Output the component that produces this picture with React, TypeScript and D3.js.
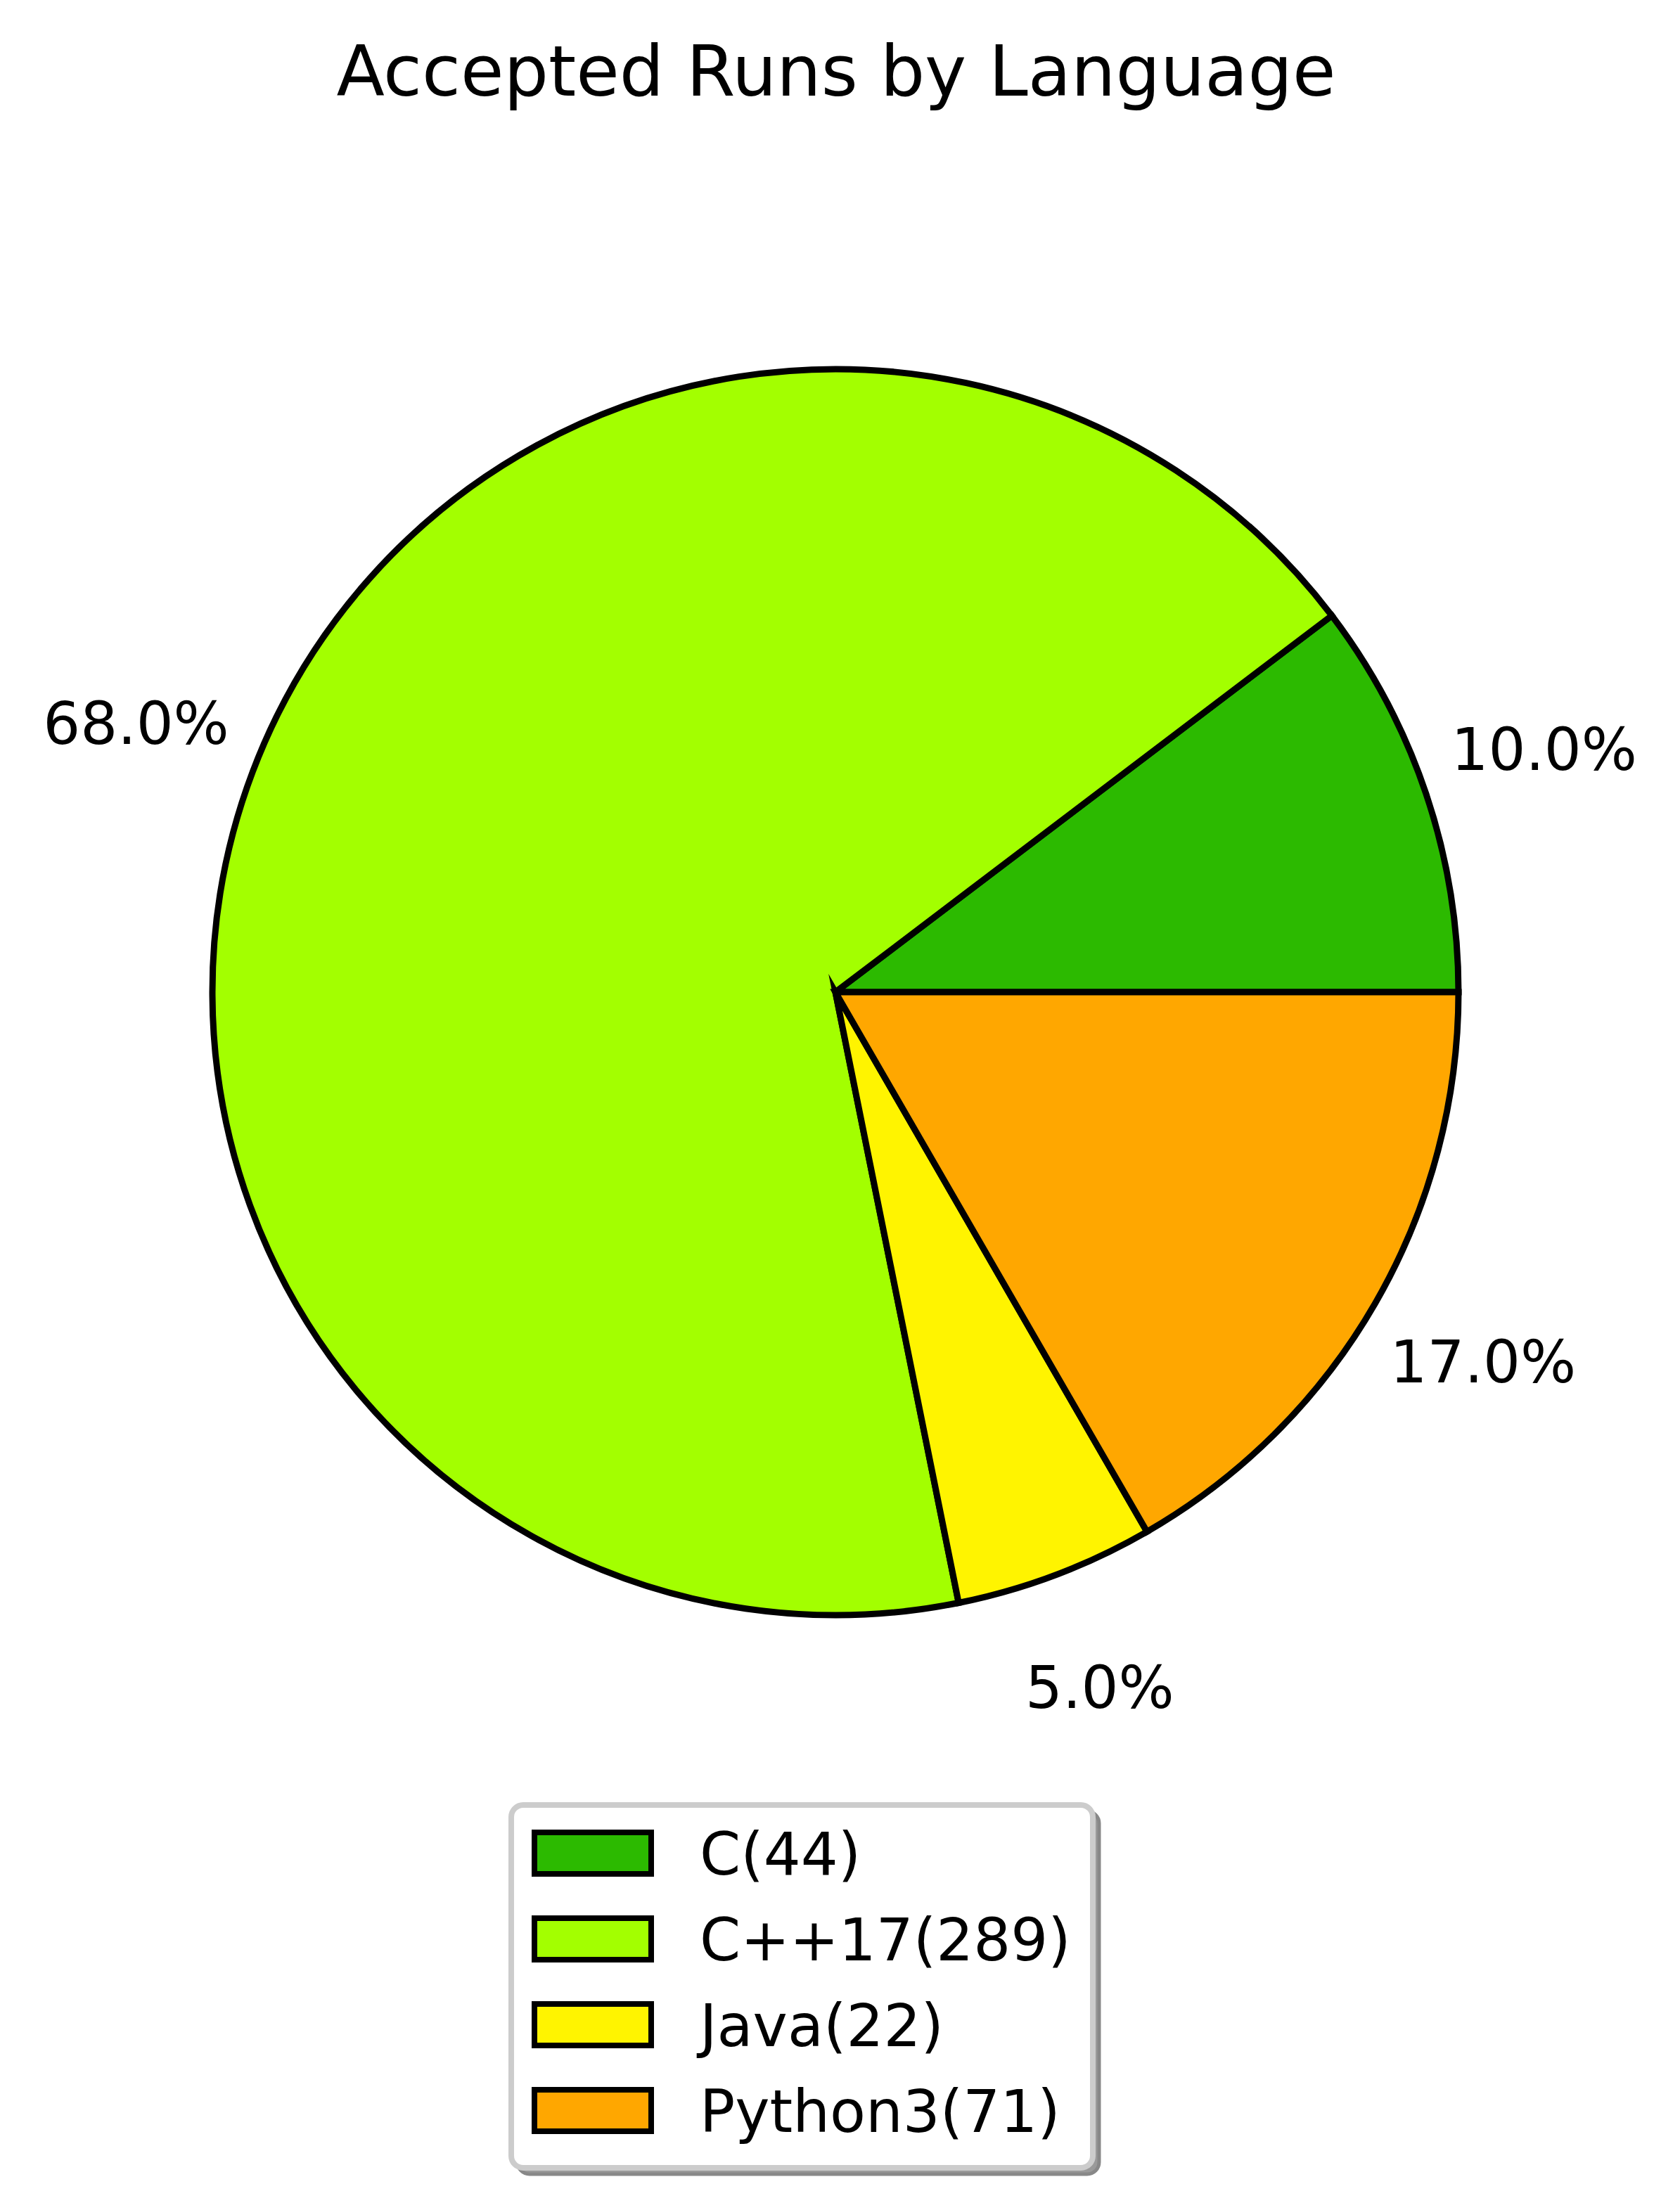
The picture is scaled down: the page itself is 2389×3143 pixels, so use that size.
import React from "react";
import * as d3 from "d3";

const languages = ["C", "C++17", "Java", "Python3"];
const counts = [44, 289, 22, 71];
const pctLabels = ["10.0%", "68.0%", "5.0%", "17.0%"];
const colors = ["#2cba00", "#a3ff00", "#fff400", "#ffa700"];
const title = "Accepted Runs by Language";

const W = 2389;
const H = 3143;
const cx = 1188;
const cy = 1411;
const R = 886;
const FONT = "'DejaVu Sans', sans-serif";
const FS = 83.3;

export default function App() {
  const pie = d3
    .pie<number>()
    .sort(null)
    .value((d) => d)
    .startAngle(Math.PI / 2)
    .endAngle(Math.PI / 2 - 2 * Math.PI);
  const arcs = pie(counts);
  const arc = d3.arc<d3.PieArcDatum<number>>().innerRadius(0).outerRadius(R);
  const labelArc = d3
    .arc<d3.PieArcDatum<number>>()
    .innerRadius(R * 1.2)
    .outerRadius(R * 1.2);

  const legX = 727;
  const legY = 2567;
  const legW = 827;
  const legH = 516;
  const rowY = d3.scaleLinear().domain([0, 1]).range([2606, 2728]);

  return (
    <svg
      width={W}
      height={H}
      style={{ position: "absolute", left: 0, top: 0, background: "#fff" }}
      fontFamily={FONT}
    >
      <rect x={0} y={0} width={W} height={H} fill="#fff" />
      <text x={1189} y={136} fontSize={100} textAnchor="middle" fill="#000">
        {title}
      </text>
      <g transform={`translate(${cx},${cy})`}>
        {arcs.map((a, i) => (
          <path
            key={languages[i]}
            d={arc(a) || ""}
            fill={colors[i]}
            stroke="#000"
            strokeWidth={9}
            strokeLinejoin="miter"
            strokeMiterlimit={10}
          />
        ))}
        {arcs.map((a, i) => {
          const [lx, ly] = labelArc.centroid(a);
          return (
            <text
              key={"l" + i}
              x={lx}
              y={ly + 23}
              fontSize={FS}
              textAnchor="middle"
              fill="#000"
            >
              {pctLabels[i]}
            </text>
          );
        })}
      </g>
      <g>
        <rect
          x={legX + 9}
          y={legY + 9}
          width={legW}
          height={legH}
          rx={17}
          fill="#9a9a9a"
          stroke="#888"
          strokeWidth={5}
        />
        <rect
          x={legX}
          y={legY}
          width={legW}
          height={legH}
          rx={17}
          fill="#fff"
          stroke="#cccccc"
          strokeWidth={8}
        />
        {languages.map((lang, i) => (
          <g key={"leg" + i}>
            <rect
              x={760}
              y={rowY(i)}
              width={166}
              height={59}
              fill={colors[i]}
              stroke="#000"
              strokeWidth={8}
            />
            <text x={995} y={rowY(i) + 60} fontSize={FS} fill="#000">
              {`${lang}(${counts[i]})`}
            </text>
          </g>
        ))}
      </g>
    </svg>
  );
}
